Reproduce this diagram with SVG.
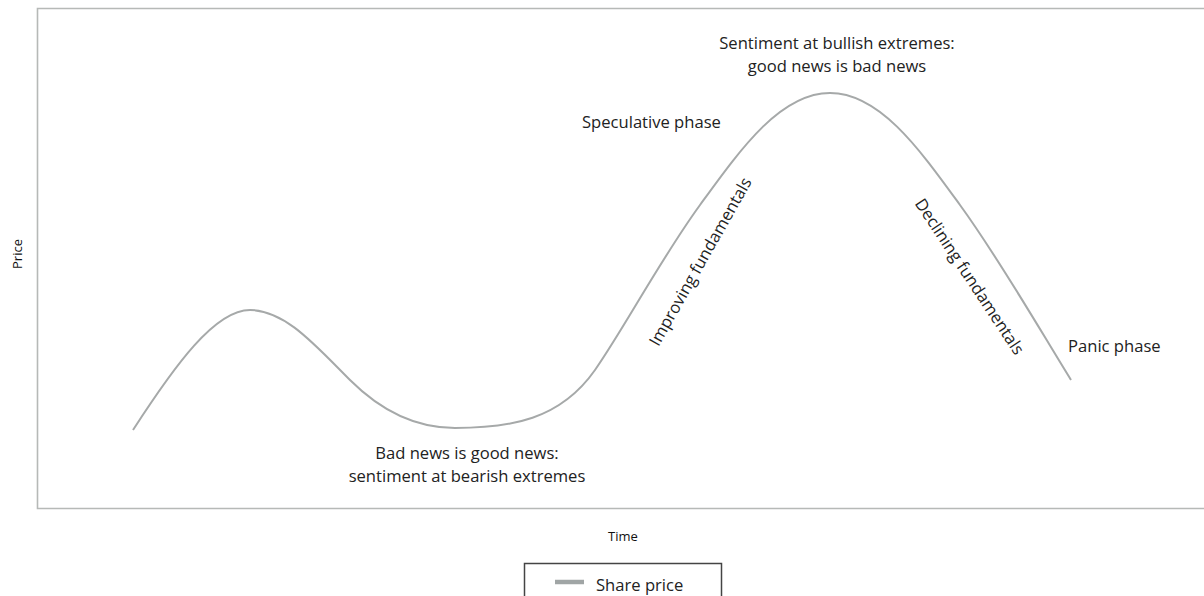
<svg xmlns="http://www.w3.org/2000/svg" width="1204" height="596" viewBox="0 0 1204 596">
<style>
.lbl{font-family:"Open Sans","Noto Sans","Liberation Sans",sans-serif;font-size:16.6px;fill:#222;}
.axis{font-family:"Open Sans","Noto Sans","Liberation Sans",sans-serif;font-size:13px;fill:#111;}
.frame{fill:none;stroke:#b6b9b7;stroke-width:1.6;}
.curve{fill:none;stroke:#a6a9a9;stroke-width:2;}
</style>
<rect width="1204" height="596" fill="#fff"/>
<g id="frame">
<path class="frame" d="M1210,8.5 H37.5 V508.5 H1210"/>
</g>
<g id="connectors">
<path id="price-curve" class="curve" d="M133,430 C175,365 215,310 250,310 C285,310 315,345 350,380 C385,415 420,428 455,428 C510,428 560,420 595,370 C625,327 660,260 700,205 C740,150 780,93 830,93 C880,93 920,150 960,205 C1000,260 1040,330 1071,380"/>
</g>
<g id="label-bullish">
<text class="lbl" x="837" y="49" text-anchor="middle">Sentiment at bullish extremes:</text>
<text class="lbl" x="837" y="72" text-anchor="middle">good news is bad news</text>
</g>
<g id="label-speculative">
<text class="lbl" x="582" y="128">Speculative phase</text>
</g>
<g id="label-improving">
<text class="lbl" transform="translate(701,262) rotate(-60.5)" x="0" y="5" text-anchor="middle">Improving fundamentals</text>
</g>
<g id="label-declining">
<text class="lbl" transform="translate(969,277) rotate(56.5)" x="0" y="5" text-anchor="middle">Declining fundamentals</text>
</g>
<g id="label-panic">
<text class="lbl" x="1068" y="352">Panic phase</text>
</g>
<g id="label-bearish">
<text class="lbl" x="467" y="459" text-anchor="middle">Bad news is good news:</text>
<text class="lbl" x="467" y="482" text-anchor="middle">sentiment at bearish extremes</text>
</g>
<g id="axis-price">
<text class="axis" transform="translate(22,254) rotate(-90)" text-anchor="middle">Price</text>
</g>
<g id="axis-time">
<text class="axis" x="623" y="541" text-anchor="middle">Time</text>
</g>
<g id="legend">
<rect x="524.5" y="563.5" width="197" height="40" fill="#fff" stroke="#444" stroke-width="1.5"/>
<line x1="555" y1="582" x2="584" y2="582" stroke="#a0a5a5" stroke-width="4.5"/>
<text class="lbl" x="596" y="591">Share price</text>
</g>
</svg>
